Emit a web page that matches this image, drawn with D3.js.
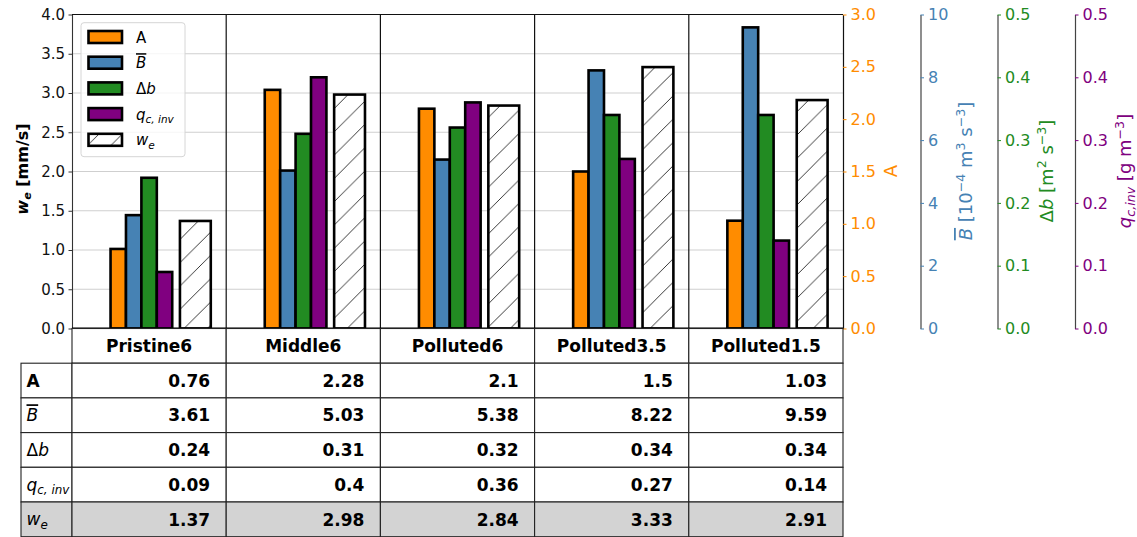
<!DOCTYPE html>
<html>
<head>
<meta charset="utf-8">
<script src="https://cdn.jsdelivr.net/npm/d3@7"></script>
<style>
  html, body { margin: 0; padding: 0; background: #fff; }
  svg { display: block; font-family: "DejaVu Sans", sans-serif; }
</style>
</head>
<body>
<svg id="chart" width="1137" height="537"></svg>
<script>
// Entrainment-rate drivers for five aerosol cases
const conditions = ["Pristine6", "Middle6", "Polluted6", "Polluted3.5", "Polluted1.5"];
const valA  = [0.76, 2.28, 2.1, 1.5, 1.03];
const valB  = [3.61, 5.03, 5.38, 8.22, 9.59];
const valDb = [0.24, 0.31, 0.32, 0.34, 0.34];
const valQ  = [0.09, 0.4, 0.36, 0.27, 0.14];
const valWe = [1.37, 2.98, 2.84, 3.33, 2.91];

// Axis ranges and tick values
const weTicks = [0, 0.5, 1, 1.5, 2, 2.5, 3, 3.5, 4];
const aTicks  = [0, 0.5, 1, 1.5, 2, 2.5, 3];
const bTicks  = [0, 2, 4, 6, 8, 10];
const dbTicks = [0, 0.1, 0.2, 0.3, 0.4, 0.5];
const qTicks  = [0, 0.1, 0.2, 0.3, 0.4, 0.5];

const svg = d3.select("#chart");
const L = 72, R = 843, T = 14.5, B = 328.5;

const x = d3.scaleLinear().domain([0, conditions.length]).range([L, R]);
const yWe = d3.scaleLinear().domain([0, 4]).range([B, T]);
const yA  = d3.scaleLinear().domain([0, 3]).range([B, T]);
const yB  = d3.scaleLinear().domain([0, 10]).range([B, T]);
const yDb = d3.scaleLinear().domain([0, 0.5]).range([B, T]);
const yQ  = d3.scaleLinear().domain([0, 0.5]).range([B, T]);

const series = [
  { key: "A",  vals: valA,  scale: yA,  color: "#ff8c00", off: 0.25, w: 0.1 },
  { key: "B",  vals: valB,  scale: yB,  color: "#4682b4", off: 0.35, w: 0.1 },
  { key: "db", vals: valDb, scale: yDb, color: "#228b22", off: 0.45, w: 0.1 },
  { key: "q",  vals: valQ,  scale: yQ,  color: "#800080", off: 0.55, w: 0.1 },
  { key: "we", vals: valWe, scale: yWe, color: "url(#hatch)", off: 0.70, w: 0.2 }
];

// Rich text helper: italic / bold / sub / sup / overline parts
function rich(textSel, parts, size) {
  let cur = 0;
  parts.forEach(p => {
    const ts = textSel.append("tspan").text(p.t);
    let shift = 0, fs = size;
    if (p.sub) { shift = size * 0.22; fs = size * 0.7; }
    if (p.sup) { shift = -size * 0.38; fs = size * 0.7; }
    ts.attr("font-size", fs);
    if (shift !== cur) { ts.attr("dy", shift - cur); cur = shift; }
    if (p.i) ts.attr("font-style", "italic");
    if (p.b) ts.attr("font-weight", "bold");
    if (p.over) ts.style("text-decoration", "overline");
  });
}

const labA  = [{ t: "A" }];
const labB  = [{ t: "B", i: 1, over: 1 }];
const labDb = [{ t: "Δ" }, { t: "b", i: 1 }];
const labQ  = [{ t: "q", i: 1 }, { t: "c, inv", i: 1, sub: 1 }];
const labWe = [{ t: "w", i: 1 }, { t: "e", i: 1, sub: 1 }];

// Hatch pattern for the w_e bars
const defs = svg.append("defs");
const hs = 23.3;
const pat = defs.append("pattern").attr("id", "hatch")
  .attr("patternUnits", "userSpaceOnUse").attr("width", hs).attr("height", hs);
pat.append("rect").attr("width", hs).attr("height", hs).attr("fill", "#fff");
pat.append("path")
  .attr("d", `M0,${hs} L${hs},0 M${-hs/2},${hs/2} L${hs/2},${-hs/2} M${hs/2},${hs*1.5} L${hs*1.5},${hs/2}`)
  .attr("stroke", "#222").attr("stroke-width", 0.9);

// Horizontal grid
svg.append("g").selectAll("line").data(weTicks.filter(t => t > 0 && t < 4)).join("line")
  .attr("x1", L).attr("x2", R).attr("y1", d => yWe(d)).attr("y2", d => yWe(d))
  .attr("stroke", "#cfcfcf").attr("stroke-width", 1);

// Column dividers
svg.append("g").selectAll("line").data(d3.range(1, conditions.length)).join("line")
  .attr("x1", d => x(d)).attr("x2", d => x(d)).attr("y1", T).attr("y2", B)
  .attr("stroke", "#111").attr("stroke-width", 1.2);

// Bars
series.forEach(s => {
  svg.append("g").selectAll("rect").data(s.vals).join("rect")
    .attr("x", (d, i) => x(i + s.off))
    .attr("width", x(s.w) - x(0))
    .attr("y", d => s.scale(d))
    .attr("height", d => B - s.scale(d))
    .attr("fill", s.color)
    .attr("stroke", "#000").attr("stroke-width", 2.6);
});

// Left axis
const gL = svg.append("g").attr("transform", `translate(${L},0)`)
  .call(d3.axisLeft(yWe).tickValues(weTicks).tickFormat(d3.format(".1f")).tickSize(3.5).tickPadding(3.5).tickSizeOuter(0));
gL.select(".domain").attr("stroke", "#333").attr("stroke-width", 1.1);
gL.selectAll(".tick line").attr("stroke", "#333");
gL.selectAll(".tick text").attr("font-size", 15).attr("fill", "#111").attr("font-family", "DejaVu Sans");

// Frame: top and bottom
svg.append("line").attr("x1", L).attr("x2", R).attr("y1", T).attr("y2", T).attr("stroke", "#111").attr("stroke-width", 1.2);
svg.append("line").attr("x1", L).attr("x2", R).attr("y1", B).attr("y2", B).attr("stroke", "#000").attr("stroke-width", 2);

// Left axis label
const yl = svg.append("text").attr("transform", "translate(27.5,169) rotate(-90)")
  .attr("text-anchor", "middle").attr("font-weight", "bold").attr("fill", "#000");
rich(yl, [{ t: "w", i: 1, b: 1 }, { t: "e", i: 1, b: 1, sub: 1 }, { t: " [mm/s]", b: 1 }], 16);

// Right-hand axes
const rightAxes = [
  { scale: yA,  ticks: aTicks,  fmt: d3.format(".1f"), x: 843,    color: "#ff8c00", spine: "#111",
    title: [{ t: "A" }], tx: 896.5 },
  { scale: yB,  ticks: bTicks,  fmt: d3.format("d"),   x: 920.5,  color: "#4682b4", spine: "#444",
    title: [{ t: "B", i: 1, over: 1 }, { t: " [10" }, { t: "−4", sup: 1 }, { t: " m" }, { t: "3", sup: 1 }, { t: " s" }, { t: "−3", sup: 1 }, { t: "]" }], tx: 972 },
  { scale: yDb, ticks: dbTicks, fmt: d3.format(".1f"), x: 997.5,  color: "#228b22", spine: "#444",
    title: [{ t: "Δ" }, { t: "b", i: 1 }, { t: " [m" }, { t: "2", sup: 1 }, { t: " s" }, { t: "−3", sup: 1 }, { t: "]" }], tx: 1053 },
  { scale: yQ,  ticks: qTicks,  fmt: d3.format(".1f"), x: 1075,   color: "#800080", spine: "#444",
    title: [{ t: "q", i: 1 }, { t: "c,inv", i: 1, sub: 1 }, { t: " [g m" }, { t: "−3", sup: 1 }, { t: "]" }], tx: 1131 }
];

rightAxes.forEach(a => {
  const g = svg.append("g").attr("transform", `translate(${a.x},0)`)
    .call(d3.axisRight(a.scale).tickValues(a.ticks).tickFormat(a.fmt).tickSize(3.5).tickPadding(4).tickSizeOuter(0));
  g.select(".domain").attr("stroke", a.spine).attr("stroke-width", 1.2);
  g.selectAll(".tick line").attr("stroke", a.color);
  g.selectAll(".tick text").attr("font-size", 16).attr("fill", a.color).attr("font-family", "DejaVu Sans");
  const t = svg.append("text").attr("transform", `translate(${a.tx},171) rotate(-90)`)
    .attr("text-anchor", "middle").attr("fill", a.color);
  rich(t, a.title, 18);
});

// Legend
const lg = svg.append("g");
lg.append("rect").attr("x", 81).attr("y", 22.7).attr("width", 104).attr("height", 134)
  .attr("rx", 3).attr("fill", "#fff").attr("fill-opacity", 0.8).attr("stroke", "#d6d6d6").attr("stroke-width", 1);
const legendItems = [
  { fill: "#ff8c00", lab: labA },
  { fill: "#4682b4", lab: labB },
  { fill: "#228b22", lab: labDb },
  { fill: "#800080", lab: labQ },
  { fill: "url(#hatch)", lab: labWe }
];
legendItems.forEach((it, i) => {
  const cy = 37 + i * 25.7;
  lg.append("rect").attr("x", 88.5).attr("y", cy - 6).attr("width", 33.5).attr("height", 12)
    .attr("fill", it.fill).attr("stroke", "#000").attr("stroke-width", 2.6);
  const t = lg.append("text").attr("x", 136).attr("y", cy + 5.5).attr("fill", "#000");
  rich(t, it.lab, 15);
});

// Table below the plot
const tableTop = 328.5, rowH = 34.7, labelX0 = 21;
const tb = svg.append("g");
const cellStroke = "#222";
const tableFont = 17;
// header row
conditions.forEach((c, i) => {
  tb.append("rect").attr("x", x(i)).attr("y", tableTop).attr("width", x(i + 1) - x(i)).attr("height", rowH)
    .attr("fill", "#fff").attr("stroke", cellStroke).attr("stroke-width", 1.1);
  tb.append("text").attr("x", (x(i) + x(i + 1)) / 2).attr("y", tableTop + rowH / 2 + 6.2)
    .attr("text-anchor", "middle").attr("font-weight", "bold").attr("font-size", tableFont).text(c);
});
const tableRows = [
  { lab: [{ t: "A", b: 1 }], vals: valA, fill: "#fff" },
  { lab: labB, vals: valB, fill: "#fff" },
  { lab: labDb, vals: valDb, fill: "#fff" },
  { lab: labQ, vals: valQ, fill: "#fff" },
  { lab: labWe, vals: valWe, fill: "#d3d3d3" }
];
tableRows.forEach((r, ri) => {
  const y0 = tableTop + rowH * (ri + 1);
  tb.append("rect").attr("x", labelX0).attr("y", y0).attr("width", L - labelX0).attr("height", rowH)
    .attr("fill", r.fill).attr("stroke", cellStroke).attr("stroke-width", 1.1);
  const lt = tb.append("text").attr("x", 26.5).attr("y", y0 + rowH / 2 + 6).attr("fill", "#000");
  rich(lt, r.lab, tableFont);
  r.vals.forEach((v, i) => {
    tb.append("rect").attr("x", x(i)).attr("y", y0).attr("width", x(i + 1) - x(i)).attr("height", rowH)
      .attr("fill", r.fill).attr("stroke", cellStroke).attr("stroke-width", 1.1);
    tb.append("text").attr("x", x(i + 1) - 16).attr("y", y0 + rowH / 2 + 6.2)
      .attr("text-anchor", "end").attr("font-weight", "bold").attr("font-size", tableFont).text(String(v));
  });
});
</script>
</body>
</html>
